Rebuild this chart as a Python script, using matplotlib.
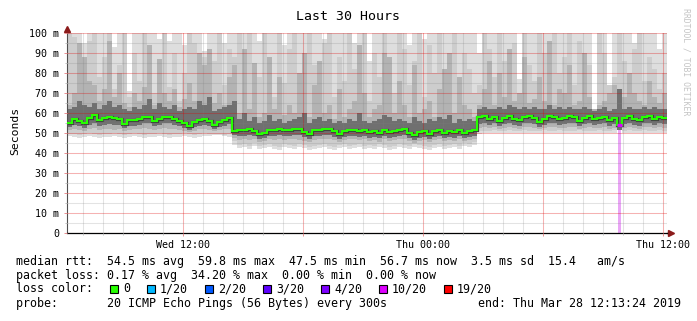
import numpy as np
import matplotlib.pyplot as plt
import matplotlib.dates as mdates
from matplotlib.ticker import MultipleLocator, FuncFormatter
from matplotlib.patches import Rectangle
from datetime import datetime, timedelta

### data ###
end_time = datetime(2019, 3, 28, 12, 13, 24)
span_hours = 30
bin_minutes = 15   # one value per 15 min, 120 values

# median rtt (ms)
median = [55, 57, 56, 55, 57.5, 59, 56.5, 57.5, 58, 57.5,
          57, 54.5, 56.5, 56.5, 57, 58, 58, 56, 57, 58,
          58, 57, 56, 55, 53.5, 55.5, 56.5, 57, 56, 54,
          55.5, 56.5, 57.5, 51, 51.5, 51.5, 52, 51, 49.5, 50,
          51.5, 51.5, 52, 51.5, 51.5, 52, 52, 50.5, 49.5, 51.5,
          51.5, 52, 52, 51, 49.5, 51, 51.5, 51.5, 51, 51.5,
          50.5, 51, 50, 51.5, 50.5, 51, 51.5, 52, 50, 49,
          50.5, 51, 49.5, 51, 51.5, 50, 51, 50.5, 51.5, 50,
          51, 51.5, 58, 58.5, 57, 58, 56, 57.5, 58.5, 57,
          56.5, 58, 58.5, 57.5, 55.5, 57, 58.5, 58, 57, 57.5,
          58.5, 58, 56, 57.5, 58.5, 57, 57.5, 58, 56.5, 57.5,
          54, 57.5, 58.5, 57, 56.5, 58, 58.5, 57, 58, 57.5]

# smoke: outer (light) to inner (dark) bands, bottom and top in ms
smoke_lo0 = [48.5, 48, 47.5, 48, 48.5, 48, 47.5, 48, 48, 48.5,
             48, 47.5, 48, 48.5, 48, 47.5, 48, 48, 48.5, 48,
             47.5, 48, 48, 48.5, 48, 47.5, 48, 48.5, 48.5, 49,
             49, 48.5, 48, 44, 42.5, 43, 42, 43.5, 42, 42.5,
             43, 42, 41.5, 43, 42.5, 42, 43, 42.5, 41.5, 42,
             42.5, 43, 42, 41.5, 42.5, 43, 42, 42.5, 43, 42,
             42.5, 42, 43, 42.5, 41.5, 42, 43, 42.5, 42, 43,
             42.5, 42, 41.5, 42.5, 43, 42, 42.5, 43, 42, 43.5,
             43, 44, 49.5, 50, 50, 50, 50, 50, 50, 50,
             50, 50, 50, 50, 50, 50, 50, 50, 50, 50,
             50, 50, 50, 50, 50, 50, 50, 50, 50, 50,
             51.5, 50, 50, 50, 50, 50, 50, 50, 50, 50]
smoke_top0 = [100, 100, 100, 95, 100, 100, 100, 100, 100, 93,
              100, 100, 71, 100, 100, 100, 100, 100, 97, 100,
              96, 100, 100, 94, 100, 100, 100, 91, 100, 100,
              100, 95, 100, 100, 100, 100, 100, 100, 96, 100,
              100, 100, 100, 94, 100, 100, 100, 100, 100, 100,
              100, 97, 100, 100, 100, 100, 100, 95, 100, 100,
              86, 100, 100, 100, 100, 100, 100, 100, 94, 100,
              100, 97, 100, 100, 100, 100, 100, 100, 100, 100,
              100, 100, 90, 100, 100, 100, 100, 100, 100, 100,
              77, 100, 100, 100, 100, 100, 100, 100, 100, 100,
              100, 100, 100, 100, 100, 62, 100, 100, 74, 100,
              100, 100, 100, 95, 100, 100, 100, 100, 92, 100]
smoke_lo1 = [49.5, 49.5, 49, 49.5, 50, 49.5, 49, 49.5, 49.5, 50,
             49.5, 49, 49.5, 50, 49.5, 49, 49.5, 49.5, 50, 49.5,
             49, 49.5, 49.5, 50, 49.5, 49, 49.5, 50, 49.5, 49.5,
             49.5, 49, 49.5, 46, 44, 44.5, 43.5, 45, 43.5, 44,
             44.5, 43.5, 43, 44.5, 44, 43.5, 44.5, 44, 43, 43.5,
             44, 44.5, 43.5, 43, 44, 44.5, 43.5, 44, 44.5, 43.5,
             44, 43.5, 44.5, 44, 43, 43.5, 44.5, 44, 43.5, 44.5,
             44, 43.5, 43, 44, 44.5, 43.5, 44, 44.5, 43.5, 45,
             44.5, 45.5, 51, 51, 51, 51.5, 51, 51, 51.5, 51,
             51, 51.5, 51, 51, 51, 51.5, 51, 51, 51.5, 51,
             51, 51, 51.5, 51, 51, 51, 51.5, 51, 51, 51.5,
             51.5, 51, 51.5, 51, 51, 51.5, 51, 51, 51.5, 51]
smoke_top1 = [100, 98, 82, 70, 96, 100, 78, 88, 100, 72,
              84, 100, 68, 90, 76, 100, 94, 70, 85, 100,
              73, 90, 66, 80, 100, 95, 78, 88, 68, 86,
              100, 74, 92, 88, 100, 82, 100, 70, 78, 100,
              86, 68, 100, 75, 92, 100, 80, 66, 100, 84,
              72, 95, 100, 68, 88, 76, 100, 82, 70, 100,
              66, 90, 78, 100, 84, 70, 100, 92, 74, 86,
              100, 68, 94, 80, 100, 72, 88, 100, 76, 90,
              82, 70, 74, 100, 92, 78, 100, 86, 72, 95,
              68, 100, 84, 76, 100, 90, 72, 100, 80, 88,
              100, 74, 96, 70, 84, 62, 100, 90, 74, 78,
              100, 86, 70, 92, 100, 76, 88, 82, 72, 80]
smoke_lo2 = [51.5, 52, 51.5, 51, 52, 52.5, 51.5, 52, 52, 51.5,
             52, 51, 51.5, 52, 52, 52.5, 52, 51.5, 52, 52.5,
             52, 52, 51.5, 51, 50.5, 51, 52, 52, 51.5, 51,
             51.5, 52, 52, 47.5, 46.5, 47, 46.5, 47, 45.5, 46,
             47, 46.5, 47, 46.5, 47, 47, 46.5, 46, 45.5, 46.5,
             47, 47, 47, 46.5, 45.5, 46.5, 47, 47, 46.5, 47,
             46, 46.5, 45.5, 47, 46, 46.5, 47, 47, 46, 45,
             46, 46.5, 45.5, 46.5, 47, 46, 46.5, 46, 47, 46,
             46.5, 47, 52.5, 53, 52.5, 53, 52, 52.5, 53, 52.5,
             52, 53, 53, 52.5, 52, 52.5, 53, 53, 52.5, 52.5,
             53, 53, 52, 52.5, 53, 52.5, 52.5, 53, 52, 52.5,
             51.5, 52.5, 53, 52.5, 52, 53, 53, 52.5, 53, 52.5]
smoke_top2 = [64, 70, 95, 88, 76, 74, 66, 72, 96, 68,
              80, 65, 63, 70, 66, 73, 94, 64, 87, 70,
              66, 72, 63, 67, 75, 66, 90, 84, 92, 65,
              70, 64, 78, 84, 60, 92, 62, 85, 58, 60,
              88, 62, 78, 59, 64, 60, 80, 90, 58, 74,
              86, 60, 64, 57, 72, 58, 62, 66, 94, 70,
              58, 62, 64, 90, 88, 60, 76, 64, 58, 84,
              60, 62, 66, 58, 72, 82, 90, 60, 78, 64,
              62, 58, 64, 72, 86, 64, 80, 68, 92, 66,
              70, 88, 65, 67, 78, 66, 96, 64, 72, 70,
              84, 64, 66, 90, 68, 62, 64, 66, 70, 74,
              72, 68, 80, 70, 66, 64, 76, 68, 65, 70]
smoke_lo3 = [53, 54, 53.5, 52.5, 54, 55, 53.5, 54, 54.5, 54,
             54, 52.5, 53.5, 53.5, 54, 55, 55, 53.5, 54, 55,
             55, 54, 53.5, 52.5, 51.5, 53, 53.5, 54, 53.5, 52,
             53, 53.5, 54.5, 49, 48.5, 48.5, 49, 48.5, 47, 47.5,
             48.5, 48.5, 49, 48.5, 48.5, 49, 49, 48, 47, 48.5,
             48.5, 49, 49, 48, 47, 48, 48.5, 48.5, 48, 48.5,
             47.5, 48, 47.5, 48.5, 47.5, 48, 48.5, 49, 47.5, 46.5,
             47.5, 48, 47, 48, 48.5, 47.5, 48, 47.5, 48.5, 47.5,
             48, 48.5, 54.5, 55, 54, 55, 53.5, 54.5, 55, 54,
             53.5, 55, 55, 54.5, 53, 54, 55, 55, 54, 54.5,
             55, 55, 53.5, 54.5, 55, 54, 54.5, 55, 53.5, 54.5,
             51.5, 54.5, 55, 54, 53.5, 55, 55, 54, 55, 54.5]
smoke_top3 = [62, 63, 66, 64, 63, 65, 62, 64, 66, 63,
              64, 62, 61, 63, 62, 64, 67, 62, 65, 63,
              62, 64, 61, 62, 63, 62, 66, 64, 68, 61,
              62, 63, 64, 66, 57, 60, 56, 58, 55, 56,
              59, 56, 57, 55, 56, 57, 58, 60, 55, 57,
              58, 56, 57, 55, 56, 55, 57, 56, 60, 56,
              55, 56, 57, 59, 58, 56, 57, 56, 55, 58,
              56, 55, 57, 56, 58, 57, 59, 55, 57, 56,
              57, 56, 62, 63, 62, 62, 63, 62, 64, 63,
              62, 63, 62, 63, 62, 62, 64, 62, 63, 62,
              63, 62, 62, 63, 62, 61, 62, 63, 61, 62,
              72, 62, 63, 62, 62, 63, 62, 63, 62, 62]

loss_events = {110: 10}   # bin index -> lost pings out of 20
loss_levels = ['0', '1/20', '2/20', '3/20', '4/20', '10/20', '19/20']
loss_colors = ['#26ff00', '#00b8ff', '#0059ff', '#5e00ff', '#7e00ff', '#dd00ff', '#ff0000']
loss_key = {0: 0, 1: 1, 2: 2, 3: 3, 4: 4, 10: 5, 19: 6}

legend_lines = [
  "median rtt:  54.5 ms avg  59.8 ms max  47.5 ms min  56.7 ms now  3.5 ms sd  15.4   am/s",
  "packet loss: 0.17 % avg  34.20 % max  0.00 % min  0.00 % now",
  "loss color:",
  "probe:       20 ICMP Echo Pings (56 Bytes) every 300s             end: Thu Mar 28 12:13:24 2019",
]

### plot ###
W, H = 697, 321
MONO = 'DejaVu Sans Mono'
plt.rcParams['font.family'] = MONO

fig = plt.figure(figsize=(W / 100, H / 100), dpi=100)
ax = fig.add_axes([67 / W, 88 / H, 600 / W, 200 / H])

start = end_time - timedelta(hours=span_hours)
edges = mdates.date2num([start + timedelta(minutes=bin_minutes * k) for k in range(len(median) + 1)])

bands = [(smoke_lo0, smoke_top0, '#dedede'),
         (smoke_lo1, smoke_top1, '#cdcdcd'),
         (smoke_lo2, smoke_top2, '#b3b3b3'),
         (smoke_lo3, smoke_top3, '#707070')]
for lo, hi, col in bands :
  ax.stairs(hi, edges, baseline=lo, fill=True, color=col, lw=0, zorder=1)

# dark core round the median, then the median itself
ax.stairs(median, edges, baseline=None, color='#404040', lw=2.3, zorder=2)
ax.stairs(median, edges, baseline=None, color=loss_colors[0], lw=1.5, zorder=3)
for i, n in loss_events.items() :
  col = loss_colors[loss_key[n]]
  ax.hlines(median[i], edges[i], edges[i + 1], color=col, lw=2.2, zorder=4)
  w = (edges[i + 1] - edges[i]) * 0.6
  ax.bar((edges[i] + edges[i + 1]) / 2, smoke_lo0[i], width=w, color='#eaa6f6', zorder=1)

ax.set_xlim(edges[0], edges[-1])
ax.set_ylim(0, 100)

# grid
ax.yaxis.set_major_locator(MultipleLocator(10))
ax.yaxis.set_minor_locator(MultipleLocator(5))
ax.yaxis.set_major_formatter(FuncFormatter(lambda v, p : "0" if v == 0 else f"{int(v)} m"))
ax.xaxis.set_major_locator(mdates.HourLocator(byhour=[0, 6, 12, 18]))
ax.xaxis.set_minor_locator(mdates.HourLocator())
ax.xaxis.set_major_formatter(FuncFormatter(
  lambda v, p : mdates.num2date(v).strftime("%a %H:%M") if mdates.num2date(v).hour in (0, 12) else ""))
ax.set_axisbelow(False)
ax.grid(which='major', color='#e00000', alpha=0.3, lw=0.75)
ax.grid(which='minor', color='#808080', alpha=0.22, lw=0.75)
ax.axvline(edges[-1], color='#e00000', alpha=0.3, lw=0.75)

ax.tick_params(which='major', length=2.5, width=0.7, color='#e89090', labelsize=7.2)
ax.tick_params(which='minor', length=1.5, width=0.7, color='#c0c0c0')
ax.tick_params(axis='x', pad=2.5)
ax.tick_params(axis='y', pad=3.2)

for s in ('top', 'right') :
  ax.spines[s].set_visible(False)
ax.spines['left'].set_color('#505050')
ax.spines['left'].set_linewidth(0.8)
ax.spines['bottom'].set_color('black')
ax.spines['bottom'].set_linewidth(0.9)
ax.plot([0, 0], [1, 1.02], color='#505050', lw=0.8, transform=ax.transAxes, clip_on=False)
ax.plot([1, 1.005], [0, 0], color='black', lw=0.9, transform=ax.transAxes, clip_on=False)
ax.plot([0], [1.02], marker='^', ms=4, color='#8b1a1a', transform=ax.transAxes, clip_on=False)
ax.plot([1.006], [0], marker='>', ms=4, color='#8b1a1a', transform=ax.transAxes, clip_on=False)

# texts
fig.text(348 / W, 1 - 16 / H, "Last 30 Hours", ha='center', va='center', fontsize=9.5)
fig.text(15 / W, 1 - 131 / H, "Seconds", ha='center', va='center', rotation=90, fontsize=8.2)
fig.text(686 / W, 1 - 62 / H, "RRDTOOL / TOBI OETIKER", ha='center', va='center',
         rotation=270, fontsize=5.9, color='#c4c4c4')

line_y = [261, 275, 289, 303]
for txt, yy in zip(legend_lines, line_y) :
  fig.text(16 / W, 1 - yy / H, txt, ha='left', va='center', fontsize=8.4)

box_x = [110, 147, 205, 263, 321, 379, 444]
for bx, lab, col in zip(box_x, loss_levels, loss_colors) :
  fig.patches.append(Rectangle((bx / W, 1 - 293 / H), 8 / W, 8 / H, transform=fig.transFigure,
                               facecolor=col, edgecolor='black', lw=0.8))
  fig.text((bx + 13) / W, 1 - 289 / H, lab, ha='left', va='center', fontsize=8.4)

plt.savefig("out.png", dpi=100)
